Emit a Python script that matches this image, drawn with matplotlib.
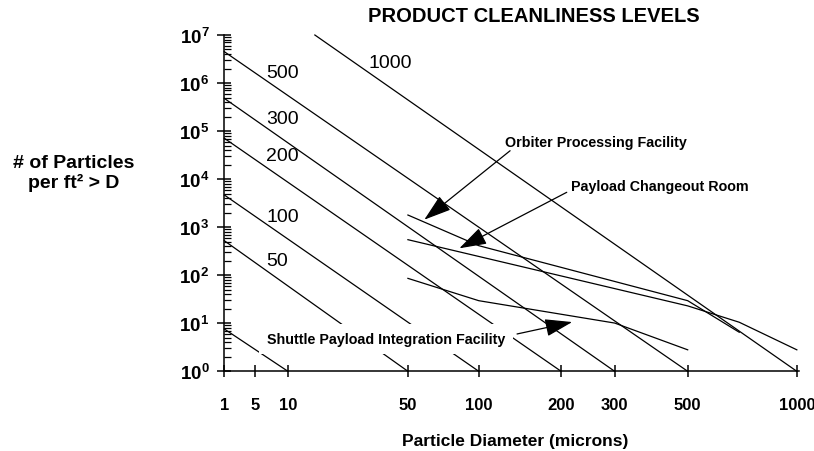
import matplotlib
matplotlib.use("Agg")
import matplotlib.pyplot as plt
from matplotlib.ticker import FixedLocator, FuncFormatter, LogLocator, NullFormatter
import numpy as np

plt.rcParams['font.family'] = ['Liberation Sans', 'DejaVu Sans']
plt.rcParams['mathtext.fontset'] = 'custom'
plt.rcParams['mathtext.rm'] = 'Liberation Sans'
plt.rcParams['mathtext.bf'] = 'Liberation Sans:bold'

# cleanliness levels: each line runs from its start point down to (level, 1)
levels = [10, 50, 100, 200, 300, 500, 1000]
level_start_d = [1, 1, 1, 1, 1, 1, 15.6]
level_start_n = [7.6, 523, 4680, 7.1e4, 4.8e5, 4.5e6, 1e7]

# facility particle distributions
opf_d = [50, 100, 500, 700]
opf_n = [1790, 412, 29.5, 6.5]
pcr_d = [50, 500, 700, 1000]
pcr_n = [549, 23, 10.5, 2.8]
spif_d = [50, 100, 300, 500]
spif_n = [86, 29.5, 10.1, 2.8]

x_ticks = [1, 5, 10, 50, 100, 200, 300, 500, 1000]
y_ticks = [10.0 ** k for k in range(8)]

# level labels (text, x, y)
level_labels = [("50", 8.1, 200), ("100", 9.1, 1680), ("200", 9.1, 3.08e4),
                ("300", 9.1, 1.85e5), ("500", 9.1, 1.67e6), ("1000", 41.4, 2.7e6)]


def fwd_x(x):
    l = np.log10(np.clip(x, 1e-12, None))
    return np.sign(l) * l ** 2


def inv_x(u):
    return 10 ** (np.sign(u) * np.sqrt(np.abs(u)))


fig = plt.figure(figsize=(8.14, 4.52), dpi=100)
ax = fig.add_axes([224.3 / 814, (452 - 372.3) / 452, 575 / 814, 336.3 / 452])
ax.set_xscale('function', functions=(fwd_x, inv_x))
ax.set_yscale('log')
ax.set_xlim(1, 1015)
ax.set_ylim(1, 1e7)

for sp in ['top', 'right']:
    ax.spines[sp].set_visible(False)
for sp in ['left', 'bottom']:
    ax.spines[sp].set_linewidth(1.1)

ax.xaxis.set_major_locator(FixedLocator(x_ticks))
ax.xaxis.set_minor_locator(FixedLocator([]))
ax.xaxis.set_major_formatter(FuncFormatter(lambda v, p: "%d" % round(v)))
ax.yaxis.set_major_locator(FixedLocator(y_ticks))
ax.yaxis.set_minor_locator(LogLocator(base=10, subs=range(2, 10), numticks=20))
ax.yaxis.set_minor_formatter(NullFormatter())
ax.yaxis.set_major_formatter(FuncFormatter(lambda v, p: r'$\mathbf{10^{%d}}$' % round(np.log10(v))))

ax.tick_params(axis='x', which='major', direction='inout', length=9, width=1.1,
               pad=14, labelsize=12)
ax.tick_params(axis='y', which='major', direction='inout', length=9.6, width=1.1,
               pad=6, labelsize=13.5)
ax.tick_params(axis='y', which='minor', direction='in', length=5, width=0.9)
for lab in ax.get_xticklabels():
    lab.set_fontweight('bold')

for L, d0, n0 in zip(levels, level_start_d, level_start_n):
    ax.plot([d0, L], [n0, 1], color='black', lw=0.9, zorder=2, clip_on=False)

for d, n in [(opf_d, opf_n), (pcr_d, pcr_n), (spif_d, spif_n)]:
    ax.plot(d, n, color='black', lw=0.9, zorder=2)

for txt, x, y in level_labels:
    ax.text(x, y, txt, fontsize=14, ha='center', va='center')

ax.text(126, 5.85e4, "Orbiter Processing Facility", fontsize=10.3,
        fontweight='bold', ha='left', va='center')
ax.text(216, 7300, "Payload Changeout Room", fontsize=10.3,
        fontweight='bold', ha='left', va='center')
ax.text(39.3, 4.7, "Shuttle Payload Integration Facility", fontsize=10.3,
        fontweight='bold', ha='center', va='center', zorder=3,
        bbox=dict(boxstyle='square,pad=0.55', fc='white', ec='none'))

arrow = dict(arrowstyle='-|>,head_length=1.7,head_width=0.55', color='black',
             lw=0.9, shrinkA=0, shrinkB=0, mutation_scale=10)
ax.annotate('', xy=(59.3, 1432), xytext=(131.7, 3.9e4), arrowprops=arrow, zorder=4)
ax.annotate('', xy=(83.6, 363), xytext=(209, 5320), arrowprops=arrow, zorder=4)
ax.annotate('', xy=(218, 10.6), xytext=(139.7, 5.98), arrowprops=arrow, zorder=4)

fig.text(534 / 814, 1 - 16 / 452, "PRODUCT CLEANLINESS LEVELS", fontsize=14.5,
         fontweight='bold', ha='center', va='center')
fig.text(74 / 814, 1 - 173.7 / 452, "# of Particles\nper ft\u00b2 > D", fontsize=14,
         fontweight='bold', ha='center', va='center', multialignment='center',
         linespacing=1.15)
fig.text(515 / 814, 1 - 441.7 / 452, "Particle Diameter (microns)", fontsize=12.5,
         fontweight='bold', ha='center', va='center')

fig.savefig("out.png", dpi=100)
